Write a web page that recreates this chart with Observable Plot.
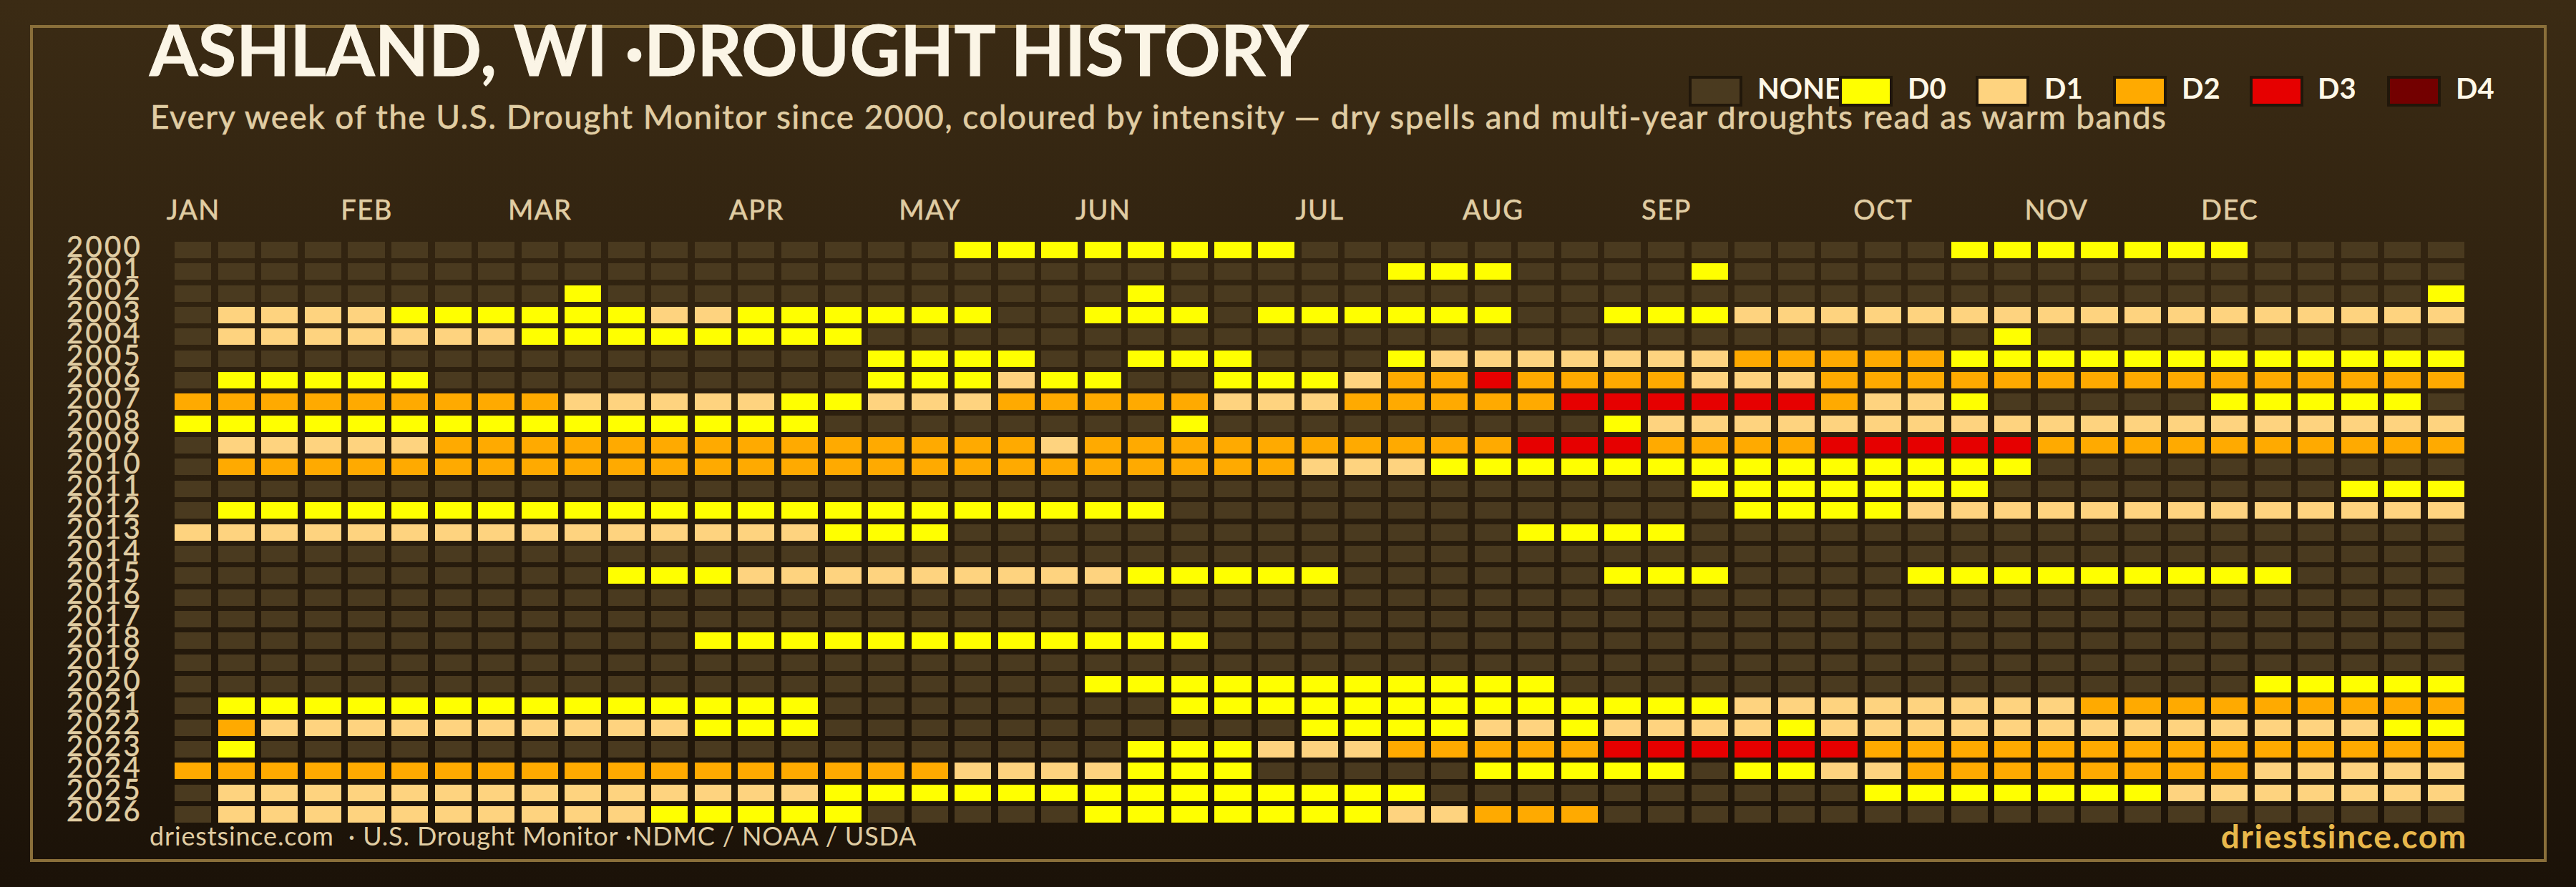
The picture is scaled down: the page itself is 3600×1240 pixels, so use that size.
<!DOCTYPE html>
<html>
<head>
<meta charset="utf-8">
<script src="https://cdn.jsdelivr.net/npm/d3@7"></script>
<script src="https://cdn.jsdelivr.net/npm/@observablehq/plot@0.6"></script>
<style>
html,body{margin:0;padding:0;width:3600px;height:1240px;overflow:hidden;background:linear-gradient(180deg,#3b2b14 0%,#1b1208 100%);font-family:Lato,sans-serif;}
#wrap{position:relative;width:3600px;height:1240px;}
#frame{position:absolute;left:42px;top:35px;width:3509px;height:1162px;border:4px solid #8a6f3a;}
#chart{position:absolute;left:0;top:0;}
#chart svg{display:block;letter-spacing:1.5px;}
#chart svg g[aria-label="y-axis tick label"]{letter-spacing:3.3px;}
#chart svg g[aria-label$="tick label"] text{stroke:#e0cda3;stroke-width:0.6px;}
.t{position:absolute;white-space:pre;line-height:1;}
#title{left:209px;top:20px;font-size:97px;font-weight:700;letter-spacing:0.4px;color:#fbf5e6;-webkit-text-stroke:1px #fbf5e6;}
#subtitle{left:210px;top:140px;font-size:46px;letter-spacing:1.43px;color:#e0cda3;-webkit-text-stroke:0.6px #e0cda3;}
#source{left:209px;top:1150px;font-size:36px;letter-spacing:0.85px;color:#e0cda3;}
#brand{right:152px;top:1146px;font-size:46px;font-weight:700;letter-spacing:1.7px;color:#e8b84b;}
.sw{position:absolute;top:106px;width:67px;height:35px;border:4px solid #21170a;}
.ll{position:absolute;top:99px;font-size:40px;font-weight:700;color:#fff8e7;line-height:1.2;}
</style>
</head>
<body>
<div id="wrap">
<div id="chart"></div>
<div id="frame"></div>
<div class="t" id="title"></div>
<div class="t" id="subtitle"></div>
<div id="legend"></div>
<div class="t" id="source"></div>
<div class="t" id="brand"></div>
</div>
<script>
const titleText = "ASHLAND, WI ·DROUGHT HISTORY";
const subtitleText = "Every week of the U.S. Drought Monitor since 2000, coloured by intensity — dry spells and multi-year droughts read as warm bands";
const sourceText = "driestsince.com  · U.S. Drought Monitor ·NDMC / NOAA / USDA";
const brandText = "driestsince.com";

const levels = ["NONE","D0","D1","D2","D3","D4"];
const levelColors = ["#4a3a1f","#ffff00","#fed37f","#ffaa00","#e60000","#730000"];
const levelCodes = {".":"NONE","0":"D0","1":"D1","2":"D2","3":"D3","4":"D4"};

const monthNames = ["JAN","FEB","MAR","APR","MAY","JUN","JUL","AUG","SEP","OCT","NOV","DEC"];
const monthWeeks = [0,4,8,13,17,21,26,30,34,39,43,47];

const years = [2000,2001,2002,2003,2004,2005,2006,2007,2008,2009,2010,2011,2012,2013,2014,2015,2016,2017,2018,2019,2020,2021,2022,2023,2024,2025,2026];

// one string per year: 53 weeks in groups of ten; "." = none, digit = D-level
const weeks = [
".......... ........00 000000.... .......... .0000000.. ...",
".......... .......... ........00 0....0.... .......... ...",
".........0 .......... ..0....... .......... .......... ..0",
".111100000 011000000. .000.00000 0..0001111 1111111111 111",
".111111100 000000.... .......... .......... ..0....... ...",
".......... ......0000 ..000...01 1111112222 2000000000 000",
".00000.... ......0001 00..000122 3222211122 2222222222 222",
"2222222221 1111001112 2222111222 2233333321 10.....000 00.",
"0000000000 00000..... ...0...... ...0111111 1111111111 111",
".111112222 2222222222 1222222222 2333222233 3332222222 222",
".222222222 2222222222 2222221110 0000000000 000....... ...",
".......... .......... .......... .....00000 00........ 000",
".000000000 0000000000 000....... ......0000 1111111111 111",
"1111111111 11111000.. .......... .0000..... .......... ...",
".......... .......... .......... .......... .......... ...",
".......... 0001111111 1100000... ...000.... 000000000. ...",
".......... .......... .......... .......... .......... ...",
".......... .......... .......... .......... .......... ...",
".......... ..00000000 0000...... .......... .......... ...",
".......... .......... .......... .......... .......... ...",
".......... .......... .000000000 00........ ........00 000",
".000000000 00000..... ...0000000 0000001111 1111222222 222",
".211111111 11000..... ......0000 1101111011 1111111111 100",
".0........ .......... ..00011122 2223333332 2222222222 222",
"2222222222 2222222211 11000..... 00000.0011 2222222211 111",
".111111111 1111100000 000000000. .........0 0000001111 111",
".111111111 100000.... .000000011 222....... .......... ..."
];

const cells = years.flatMap((year, r) =>
  Array.from(weeks[r].replace(/ /g, ""), (c, week) => ({year, week, level: levelCodes[c]}))
);

const plot = Plot.plot({
  width: 3600,
  height: 1240,
  marginLeft: 239.5,
  marginRight: 151.35,
  marginTop: 334.3,
  marginBottom: 86.25,
  style: {background: "transparent", fontFamily: "Lato, sans-serif"},
  x: {type: "band", domain: d3.range(53), padding: 0, round: false, axis: null},
  y: {type: "band", domain: years, padding: 0, round: false, axis: null},
  color: {type: "ordinal", domain: levels, range: levelColors},
  marks: [
    Plot.cell(cells, {x: "week", y: "year", fill: "level", insetLeft: 4.75, insetRight: 4.75, insetTop: 3.675, insetBottom: 3.675, shapeRendering: "crispEdges"}),
    Plot.axisX({anchor: "top", ticks: monthWeeks, tickFormat: w => monthNames[monthWeeks.indexOf(w)], tickSize: 0, tickPadding: 28, fontSize: 38, color: "#e0cda3", label: null}),
    Plot.axisY({anchor: "left", ticks: years, tickFormat: d => String(d), tickSize: 0, tickPadding: 41, fontSize: 40, dy: -4, color: "#e0cda3", label: null})
  ]
});
document.getElementById("chart").append(plot);

document.getElementById("title").textContent = titleText;
document.getElementById("subtitle").textContent = subtitleText;
document.getElementById("source").textContent = sourceText;
document.getElementById("brand").textContent = brandText;

const legendSwatchX = [2360,2570,2761,2953,3144,3336];
const legendLabelX = [2456,2666,2857,3049,3239,3432];
const legend = document.getElementById("legend");
levels.forEach((l,i) => {
  const s = document.createElement("div"); s.className = "sw"; s.style.left = legendSwatchX[i]+"px"; s.style.background = levelColors[i]; legend.append(s);
  const t = document.createElement("div"); t.className = "ll"; t.style.left = legendLabelX[i]+"px"; t.textContent = l; legend.append(t);
});
</script>
</body>
</html>
